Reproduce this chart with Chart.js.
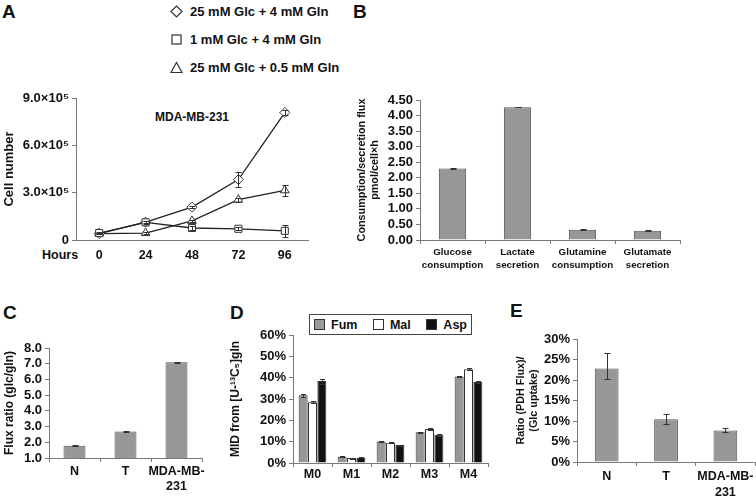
<!DOCTYPE html>
<html><head><meta charset="utf-8">
<script src="https://cdn.jsdelivr.net/npm/chart.js@4"></script>
<style>
body{margin:0;background:#fff;width:756px;height:497px;overflow:hidden;position:relative;font-family:"Liberation Sans",Arial,Helvetica,sans-serif;font-weight:bold;color:#111}
canvas{position:absolute}
.t{position:absolute;white-space:nowrap;line-height:1}
.lg{position:absolute;display:flex;align-items:center;font-size:13px;white-space:nowrap}
.lg svg{margin-right:7px}
#legD{position:absolute;left:309px;top:314px;width:153px;height:19px;border:1.5px solid #444;display:flex;align-items:center;justify-content:space-between;padding:0 4px;box-sizing:content-box;font-size:12.5px}
#legD span.b{display:inline-block;width:9px;height:9px;border:1px solid #333;margin-right:6px;vertical-align:-1px}
</style></head><body>

<div class="t" style="left:2px;top:2px;font-size:19px">A</div>
<div class="t" style="left:353px;top:2px;font-size:19px">B</div>
<div class="t" style="left:3px;top:303px;font-size:19px">C</div>
<div class="t" style="left:230px;top:303px;font-size:19px">D</div>
<div class="t" style="left:510px;top:301px;font-size:19px">E</div>

<div class="lg" style="left:170px;top:4px"><svg width="13" height="13"><polygon points="6.5,1 12,6.5 6.5,12 1,6.5" fill="none" stroke="#333" stroke-width="1.2"/></svg>25 mM Glc + 4 mM Gln</div>
<div class="lg" style="left:170px;top:32px"><svg width="13" height="13"><rect x="2" y="2" width="9" height="9" fill="none" stroke="#333" stroke-width="1.2"/></svg>1 mM Glc + 4 mM Gln</div>
<div class="lg" style="left:170px;top:60px"><svg width="13" height="13"><polygon points="6.5,1.5 12,11.5 1,11.5" fill="none" stroke="#333" stroke-width="1.2"/></svg>25 mM Glc + 0.5 mM Gln</div>

<div class="t" style="left:155px;top:111px;font-size:12px">MDA-MB-231</div>
<div class="t" style="left:42px;top:249px;font-size:12.5px">Hours</div>

<div id="legD">
  <span><span class="b" style="background:#9a9a9a"></span>Fum</span>
  <span><span class="b" style="background:#fff"></span>Mal</span>
  <span><span class="b" style="background:#111"></span>Asp</span>
</div>

<canvas id="cA" width="320" height="190" style="left:0;top:80px"></canvas>
<canvas id="cB" width="340" height="190" style="left:350px;top:85px"></canvas>
<canvas id="cC" width="215" height="167" style="left:0;top:330px"></canvas>
<canvas id="cD" width="270" height="187" style="left:225px;top:310px"></canvas>
<canvas id="cE" width="251" height="177" style="left:505px;top:320px"></canvas>

<script>
// ---------- DATA ----------
// Panel A
const hoursA = ['0', '24', '48', '72', '96'];
const seriesNamesA = ['25 mM Glc + 4 mM Gln', '1 mM Glc + 4 mM Gln', '25 mM Glc + 0.5 mM Gln'];
const cellsHighGlcGln = [41000, 113000, 208000, 383000, 808000];
const cellsHighGlcGlnErr = [3000, 5000, 8000, 46000, 15000];
const cellsLowGlc = [44000, 112000, 76000, 71000, 58000];
const cellsLowGlcErr = [5000, 8000, 12000, 10000, 38000];
const cellsLowGln = [41000, 44000, 121000, 256000, 315000];
const cellsLowGlnErr = [3000, 4000, 8000, 12000, 33000];
const yTicksA = ['0', '3.0×10⁵', '6.0×10⁵', '9.0×10⁵'];

// Panel B
const categoriesB = [['Glucose', 'consumption'], ['Lactate', 'secretion'], ['Glutamine', 'consumption'], ['Glutamate', 'secretion']];
const fluxB = [2.30, 4.27, 0.33, 0.30];
const fluxBErr = [0.02, 0.01, 0.01, 0.01];
const yTicksB = ['0.00', '0.50', '1.00', '1.50', '2.00', '2.50', '3.00', '3.50', '4.00', '4.50'];

// Panel C
const categoriesC = ['N', 'T', ['MDA-MB-', '231']];
const ratioC = [1.78, 2.68, 7.10];
const ratioCErr = [0.02, 0.04, 0.03];
const yTicksC = ['1.0', '2.0', '3.0', '4.0', '5.0', '6.0', '7.0', '8.0'];

// Panel D
const categoriesD = ['M0', 'M1', 'M2', 'M3', 'M4'];
const seriesNamesD = ['Fum', 'Mal', 'Asp'];
const fumD = [31.7, 2.9, 10.1, 14.4, 40.6];
const fumDErr = [0.7, 0.2, 0.2, 0.3, 0.4];
const malD = [28.5, 2.3, 9.5, 15.9, 43.9];
const malDErr = [0.6, 0.2, 0.2, 0.3, 0.4];
const aspD = [38.4, 2.4, 8.4, 13.2, 38.0];
const aspDErr = [1.2, 0.2, 0.2, 0.4, 0.6];
const yTicksD = ['0%', '10%', '20%', '30%', '40%', '50%', '60%'];

// Panel E
const categoriesE = ['N', 'T', ['MDA-MB-', '231']];
const pdhE = [22.8, 10.4, 7.7];
const pdhEErrUp = [3.9, 1.3, 0.5];
const pdhEErrDown = [2.5, 1.2, 0.4];
const yTicksE = ['0%', '5%', '10%', '15%', '20%', '25%', '30%'];

// ---------- STYLE ----------
const AX = '#7a7a7a';
const BAR = '#979797';
const BARB = '#505050';
Chart.defaults.font.family = '"Liberation Sans", Arial, Helvetica, sans-serif';
Chart.defaults.font.weight = 'bold';
Chart.defaults.color = '#111';
Chart.defaults.animation = false;
Chart.defaults.responsive = false;
Chart.defaults.devicePixelRatio = 1;
Chart.defaults.plugins.legend.display = false;
Chart.defaults.plugins.tooltip.enabled = false;

const errorBars = {
  id: 'errorBars',
  afterDatasetsDraw(chart) {
    const ctx = chart.ctx;
    chart.data.datasets.forEach((ds, i) => {
      const up = ds.errorsUp || ds.errors;
      const dn = ds.errorsDown || ds.errors;
      if (!up) return;
      const meta = chart.getDatasetMeta(i);
      const ys = chart.scales[meta.yAxisID];
      const cap = ds.errorCap || 3;
      ctx.save();
      ctx.strokeStyle = ds.errorColor || '#333';
      ctx.lineWidth = 1;
      meta.data.forEach((el, j) => {
        const v = ds.data[j];
        const x = Math.round(el.x) + 0.5;
        const yT = Math.round(ys.getPixelForValue(v + up[j])) + 0.5;
        const yB = Math.round(ys.getPixelForValue(v - dn[j])) + 0.5;
        ctx.beginPath();
        ctx.moveTo(x, yT); ctx.lineTo(x, yB);
        ctx.moveTo(x - cap, yT); ctx.lineTo(x + cap, yT);
        ctx.moveTo(x - cap, yB); ctx.lineTo(x + cap, yB);
        ctx.stroke();
      });
      ctx.restore();
    });
  }
};

function yAxis(o) {
  return {
    min: o.min, max: o.max,
    ticks: { stepSize: o.step, autoSkip: false, padding: 3, color: '#111',
      font: { size: o.tickSize || 13, weight: 'bold' }, callback: (v, i) => o.labels[i] },
    grid: { display: true, drawOnChartArea: false, drawTicks: true, tickLength: 4, color: AX },
    border: { display: true, color: AX, width: 1 },
    title: { display: true, text: o.title, color: '#111',
      font: { size: o.titleSize, lineHeight: 1.2, weight: 'bold' }, padding: { top: o.titlePad, bottom: 0 } },
    afterFit: s => { s.width = o.width; }
  };
}
function xAxis(o) {
  return {
    type: 'category', offset: true,
    grid: { display: o.ticks, drawOnChartArea: false, drawTicks: o.ticks, tickLength: 4, color: AX, offset: true },
    border: { display: true, color: AX, width: 1 },
    ticks: { padding: o.pad, maxRotation: 0, autoSkip: false, color: '#111',
      font: { size: o.size, lineHeight: o.lh || 1.2, weight: 'bold' } },
    afterFit: s => { s.height = o.height; }
  };
}

// ---------- PANEL A ----------
function lineDs(label, data, errs, style) {
  return { label, data, errors: errs, errorCap: 3, borderColor: '#222', borderWidth: 1.3,
    pointStyle: style, pointRadius: 5, pointBackgroundColor: '#fff', pointBorderColor: '#333',
    pointBorderWidth: 1, tension: 0, fill: false };
}
new Chart(document.getElementById('cA'), {
  type: 'line',
  data: { labels: hoursA, datasets: [
    lineDs(seriesNamesA[1], cellsLowGlc, cellsLowGlcErr, 'rect'),
    lineDs(seriesNamesA[0], cellsHighGlcGln, cellsHighGlcGlnErr, 'rectRot'),
    lineDs(seriesNamesA[2], cellsLowGln, cellsLowGlnErr, 'triangle')
  ]},
  options: {
    layout: { padding: { left: 0, top: 18, right: 12, bottom: 0 } },
    scales: {
      x: xAxis({ ticks: false, pad: 8, size: 12.5, height: 30 }),
      y: yAxis({ min: 0, max: 900000, step: 300000, labels: yTicksA, width: 76,
        title: 'Cell number', titleSize: 13, titlePad: 2 })
    }
  },
  plugins: [errorBars]
});

// ---------- PANEL B ----------
new Chart(document.getElementById('cB'), {
  type: 'bar',
  data: { labels: categoriesB, datasets: [{ data: fluxB, errors: fluxBErr, backgroundColor: BAR,
    borderColor: BARB, borderWidth: 1, barPercentage: 0.42, categoryPercentage: 1 }] },
  options: {
    layout: { padding: { left: 0, top: 15, right: 10, bottom: 0 } },
    scales: {
      x: xAxis({ ticks: true, pad: 2, size: 9.8, lh: 1.3, height: 35 }),
      y: yAxis({ min: 0, max: 4.5, step: 0.5, labels: yTicksB, width: 70,
        title: ['Consumption/secretion flux', 'pmol/cell×h'], titleSize: 10.8, titlePad: 5.5 })
    }
  },
  plugins: [errorBars]
});

// ---------- PANEL C ----------
new Chart(document.getElementById('cC'), {
  type: 'bar',
  data: { labels: categoriesC, datasets: [{ data: ratioC, errors: ratioCErr, backgroundColor: BAR,
    borderColor: BARB, borderWidth: 1, barPercentage: 0.43, categoryPercentage: 1 }] },
  options: {
    layout: { padding: { left: 0, top: 18, right: 13, bottom: 0 } },
    scales: {
      x: xAxis({ ticks: true, pad: 1.6, size: 12.5, lh: 1.25, height: 39 }),
      y: yAxis({ min: 1, max: 8, step: 1, labels: yTicksC, width: 49,
        title: 'Flux ratio (glc/gln)', titleSize: 12, titlePad: 2.8 })
    }
  },
  plugins: [errorBars]
});

// ---------- PANEL D ----------
function barD(label, data, errs, fill) {
  return { label, data, errors: errs, errorCap: 2.5, backgroundColor: fill, borderColor: '#333',
    borderWidth: 1, barPercentage: 0.96, categoryPercentage: 0.72 };
}
new Chart(document.getElementById('cD'), {
  type: 'bar',
  data: { labels: categoriesD, datasets: [
    barD(seriesNamesD[0], fumD, fumDErr, BAR),
    barD(seriesNamesD[1], malD, malDErr, '#ffffff'),
    barD(seriesNamesD[2], aspD, aspDErr, '#111111')
  ]},
  options: {
    layout: { padding: { left: 0, top: 25, right: 7, bottom: 0 } },
    scales: {
      x: xAxis({ ticks: true, pad: 0.5, size: 12.5, height: 34 }),
      y: yAxis({ min: 0, max: 60, step: 10, labels: yTicksD, width: 68,
        title: 'MID from [U-¹³C₅]gln', titleSize: 12, titlePad: 3.8 })
    }
  },
  plugins: [errorBars]
});

// ---------- PANEL E ----------
new Chart(document.getElementById('cE'), {
  type: 'bar',
  data: { labels: categoriesE, datasets: [{ data: pdhE, errorsUp: pdhEErrUp, errorsDown: pdhEErrDown,
    backgroundColor: BAR, borderColor: BARB, borderWidth: 1, barPercentage: 0.4, categoryPercentage: 1 }] },
  options: {
    layout: { padding: { left: 0, top: 19, right: 0, bottom: 0 } },
    scales: {
      x: xAxis({ ticks: true, pad: 2.5, size: 12.5, lh: 1.28, height: 35 }),
      y: yAxis({ min: 0, max: 30, step: 5, labels: yTicksE, width: 72,
        title: ['Ratio (PDH Flux)/', '(Glc uptake)'], titleSize: 10.8, titlePad: 9.2 })
    }
  },
  plugins: [errorBars]
});
</script>
</body></html>
